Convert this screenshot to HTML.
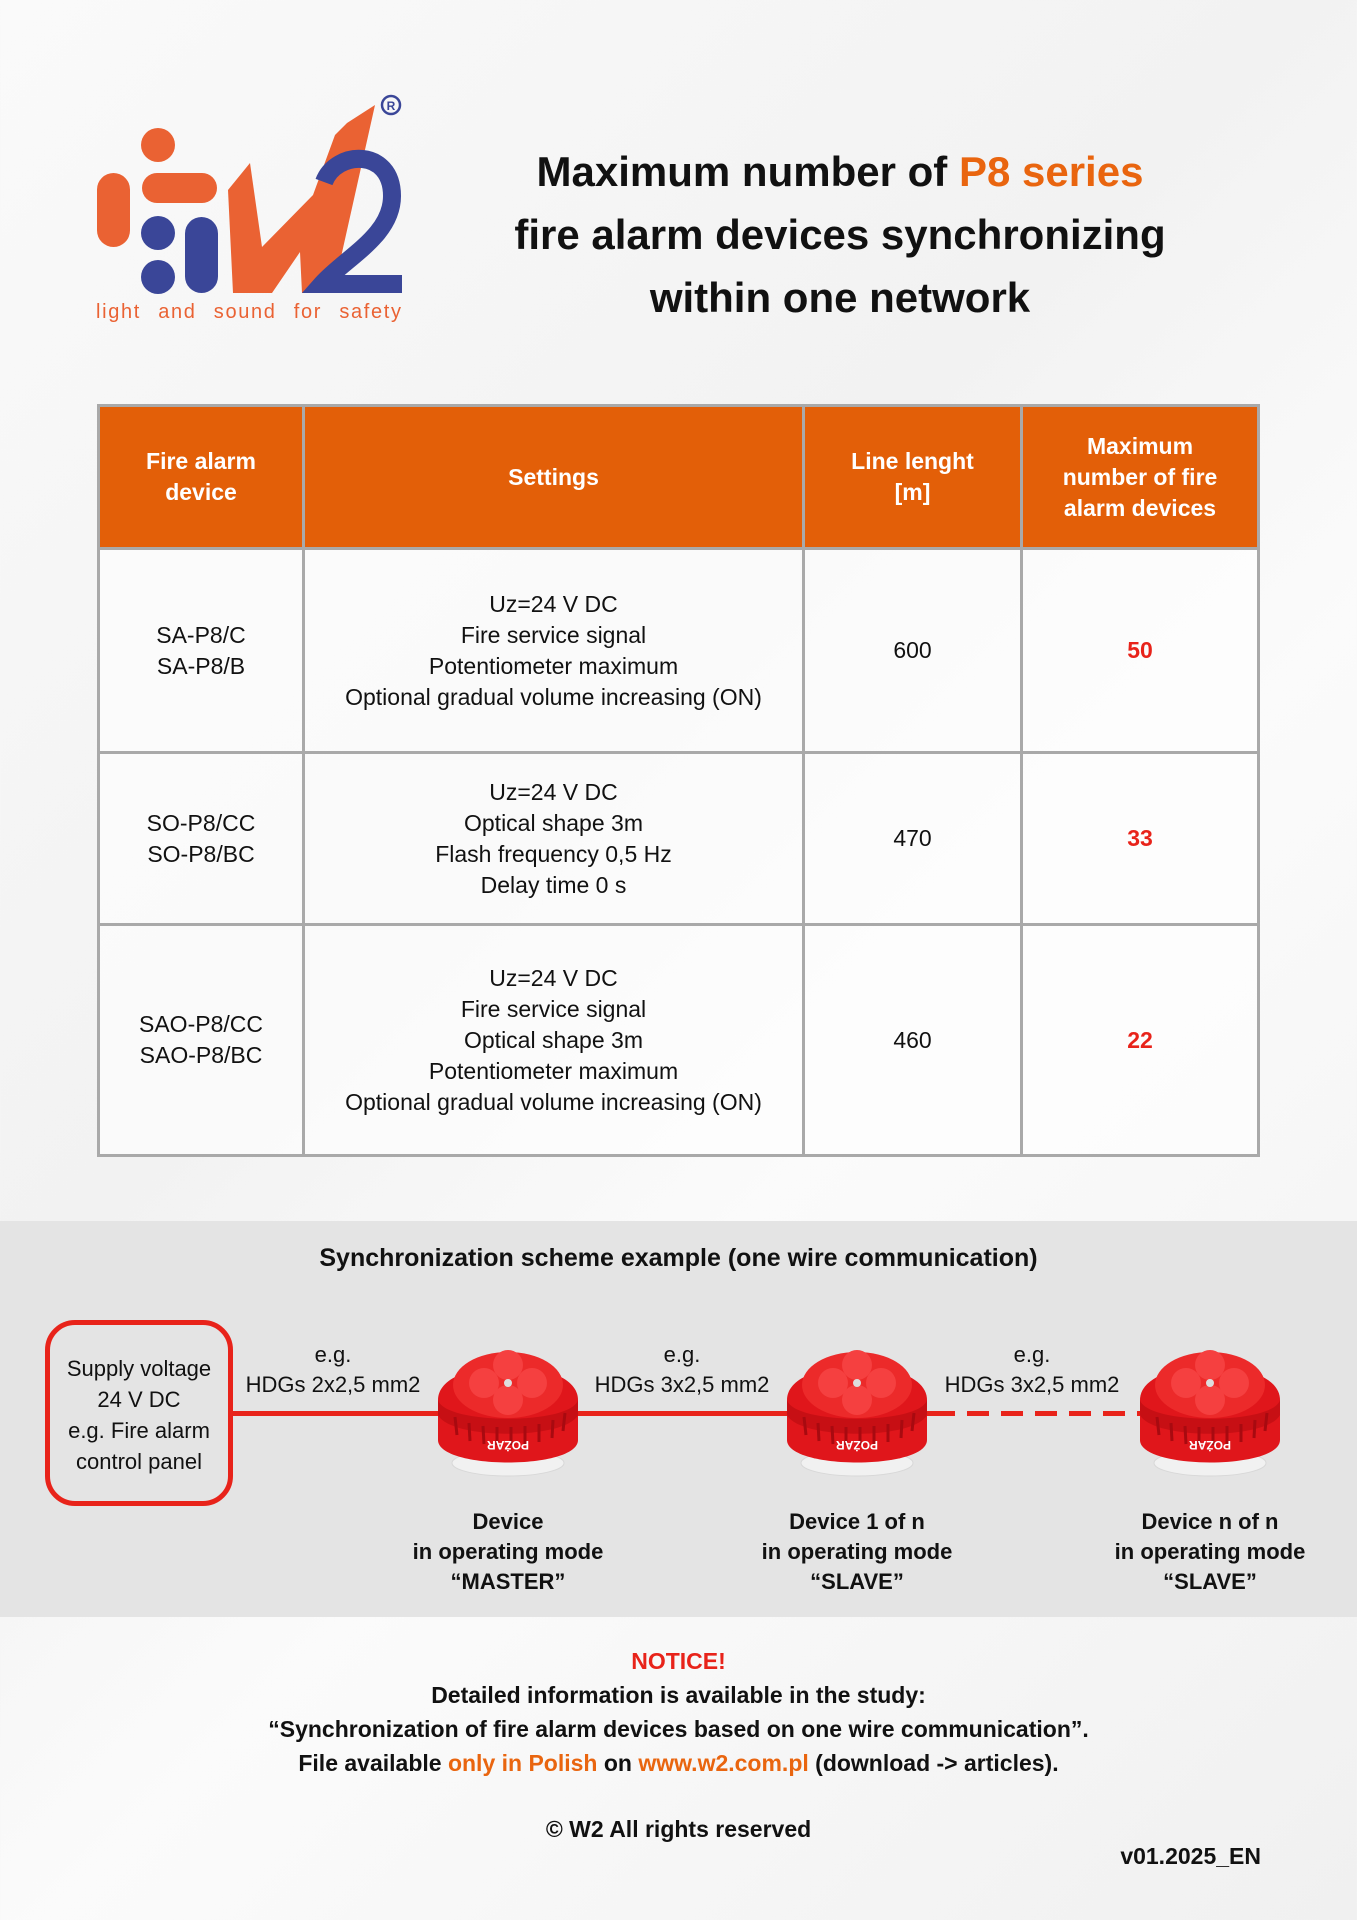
<!DOCTYPE html>
<html><head><meta charset="utf-8"><style>
*{margin:0;padding:0;box-sizing:border-box}
body{width:1357px;height:1920px;position:relative;overflow:hidden;font-family:"Liberation Sans",sans-serif;color:#111;background:linear-gradient(135deg,#fafafa 0%,#f2f2f2 40%,#fbfbfb 60%,#f0f0f0 100%)}
.a{position:absolute}
.c{text-align:center}
.title{left:460px;width:760px;top:140px;font-size:42px;font-weight:bold;line-height:63px;text-align:center;color:#111}
.or{color:#e9650f}
table{position:absolute;left:97px;top:404px;width:1163px;height:753px;border-collapse:collapse;background:rgba(255,255,255,0.6)}
td,th{border:3px solid #a9a9a9;text-align:center;font-size:23px;line-height:31px;font-weight:normal}
th{background:#e35f08;color:#fff;font-weight:bold;font-size:23px}
.n{color:#e8231a;font-weight:bold}
.band{left:0;top:1221px;width:1357px;height:396px;background:#e4e4e4}
.t{font-size:22px;line-height:30px}
.b{font-weight:bold}
</style></head><body>
<!-- logo -->
<svg class="a" style="left:90px;top:90px" width="330" height="240" viewBox="90 90 330 240">
<g fill="#ea6233">
<circle cx="158" cy="145" r="17"/>
<rect x="97" y="173" width="33" height="74" rx="16.5"/>
<rect x="142" y="173" width="75" height="30" rx="15"/>
<polygon points="228,190 250,163 262,247 313,195 335,135 347,123 375,105 333,293 302,293 300,252 272,293 233,293"/>
</g>
<g fill="#3a4698">
<circle cx="158" cy="233" r="17"/>
<circle cx="158" cy="277" r="17"/>
<rect x="185" y="217" width="33" height="76" rx="16.5"/>
</g>
<path d="M324 182 C336 150 392 148 392 196 C392 236 345 258 322 284 L402 284" fill="none" stroke="#3a4698" stroke-width="18"/>
<circle cx="391" cy="105" r="9" fill="none" stroke="#3a4698" stroke-width="2.5"/>
<text x="391" y="110" font-size="12" font-weight="bold" fill="#3a4698" text-anchor="middle" font-family="Liberation Sans">R</text>
<text x="96" y="318" font-size="20" fill="#ea6233" font-family="Liberation Sans" textLength="305" lengthAdjust="spacing" word-spacing="10">light and sound for safety</text>
</svg>

<div class="a title">Maximum number of <span class="or">P8 series</span><br>fire alarm devices synchronizing<br>within one network</div>

<table>
<colgroup><col style="width:205px"><col style="width:500px"><col style="width:218px"><col></colgroup>
<tr style="height:143px"><th>Fire alarm<br>device</th><th>Settings</th><th>Line lenght<br>[m]</th><th>Maximum<br>number of fire<br>alarm devices</th></tr>
<tr style="height:204px"><td>SA-P8/C<br>SA-P8/B</td><td>Uz=24 V DC<br>Fire service signal<br>Potentiometer maximum<br>Optional gradual volume increasing (ON)</td><td>600</td><td class="n">50</td></tr>
<tr style="height:172px"><td>SO-P8/CC<br>SO-P8/BC</td><td>Uz=24 V DC<br>Optical shape 3m<br>Flash frequency 0,5 Hz<br>Delay time 0 s</td><td>470</td><td class="n">33</td></tr>
<tr><td>SAO-P8/CC<br>SAO-P8/BC</td><td>Uz=24 V DC<br>Fire service signal<br>Optical shape 3m<br>Potentiometer maximum<br>Optional gradual volume increasing (ON)</td><td>460</td><td class="n">22</td></tr>
</table>

<div class="a band"></div>
<div class="a c b" style="left:0;width:1357px;top:1242px;font-size:25px;line-height:32px">Synchronization scheme example (one wire communication)</div>

<div class="a" style="left:45px;top:1320px;width:188px;height:186px;border:5px solid #e8231a;border-radius:30px"></div>
<div class="a c t" style="left:45px;width:188px;top:1353px;line-height:31px">Supply voltage<br>24 V DC<br>e.g. Fire alarm<br>control panel</div>

<div class="a" style="left:233px;top:1411px;width:700px;height:5px;background:#e8231a"></div>
<div class="a" style="left:933px;top:1411px;width:210px;height:5px;background:repeating-linear-gradient(90deg,#e8231a 0 22px,transparent 22px 34px)"></div>

<div class="a c t" style="left:233px;width:200px;top:1340px">e.g.<br>HDGs 2x2,5 mm2</div>
<div class="a c t" style="left:582px;width:200px;top:1340px">e.g.<br>HDGs 3x2,5 mm2</div>
<div class="a c t" style="left:932px;width:200px;top:1340px">e.g.<br>HDGs 3x2,5 mm2</div>

<svg width="0" height="0" style="position:absolute"><defs>
<g id="dev">
<ellipse cx="73" cy="118" rx="56" ry="13" fill="#f1f1f1" stroke="#d8d8d8"/>
<path d="M3 55 C3 10 143 10 143 55 L143 95 C143 125 3 125 3 95 Z" fill="#e0161b"/>
<path d="M3 55 C10 80 136 80 143 55 L143 70 C130 95 16 95 3 70 Z" fill="#c70f14"/>
<g stroke="#a80a10" stroke-width="3">
<line x1="20" y1="72" x2="22" y2="90"/><line x1="34" y1="78" x2="35" y2="96"/><line x1="48" y1="81" x2="49" y2="99"/><line x1="62" y1="82" x2="62" y2="100"/><line x1="76" y1="82" x2="76" y2="100"/><line x1="90" y1="81" x2="90" y2="99"/><line x1="104" y1="79" x2="104" y2="97"/><line x1="118" y1="75" x2="117" y2="93"/><line x1="130" y1="68" x2="128" y2="86"/></g>
<ellipse cx="73" cy="40" rx="55" ry="33" fill="#ec2a2a"/>
<circle cx="73" cy="20" r="15" fill="#f54040"/><circle cx="49" cy="38" r="15" fill="#f54040"/><circle cx="97" cy="38" r="15" fill="#f54040"/><circle cx="73" cy="55" r="15" fill="#f54040"/>
<circle cx="73" cy="38" r="4" fill="#ddd"/>
<text x="73" y="104" font-size="12" font-weight="bold" fill="#fff" text-anchor="middle" transform="rotate(180 73 100)" font-family="Liberation Sans">POŻAR</text>
</g></defs></svg>
<svg class="a" style="left:435px;top:1345px" width="146" height="135"><use href="#dev"/></svg>
<svg class="a" style="left:784px;top:1345px" width="146" height="135"><use href="#dev"/></svg>
<svg class="a" style="left:1137px;top:1345px" width="146" height="135"><use href="#dev"/></svg>

<div class="a c t b" style="left:358px;width:300px;top:1507px">Device<br>in operating mode<br>“MASTER”</div>
<div class="a c t b" style="left:707px;width:300px;top:1507px">Device 1 of n<br>in operating mode<br>“SLAVE”</div>
<div class="a c t b" style="left:1060px;width:300px;top:1507px">Device n of n<br>in operating mode<br>“SLAVE”</div>

<div class="a c b" style="left:0;width:1357px;top:1644px;font-size:23px;line-height:34px"><span style="color:#e8231a">NOTICE!</span><br>Detailed information is available in the study:<br>“Synchronization of fire alarm devices based on one wire communication”.<br>File available <span class="or">only in Polish</span> on <span class="or">www.w2.com.pl</span> (download -&gt; articles).</div>
<div class="a c b" style="left:0;width:1357px;top:1816px;font-size:23px">© W2 All rights reserved</div>
<div class="a b" style="right:96px;top:1843px;font-size:23px">v01.2025_EN</div>
</body></html>
